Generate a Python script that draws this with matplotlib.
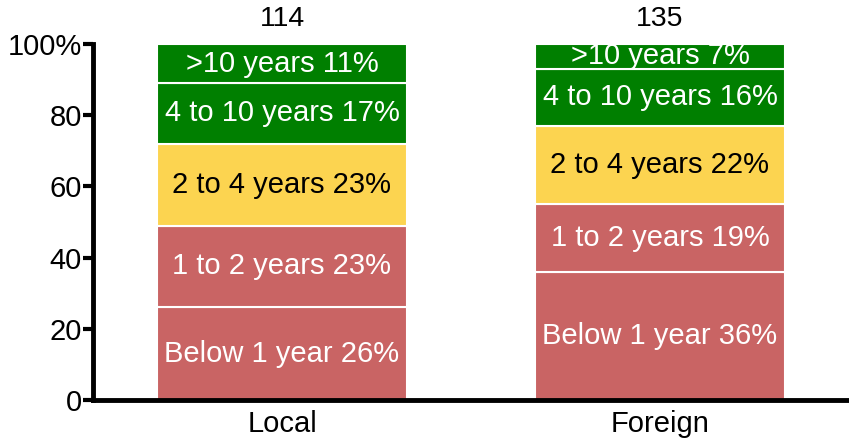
import matplotlib
matplotlib.use("Agg")
import matplotlib.pyplot as plt

plt.rcParams['font.family'] = ['Liberation Sans', 'DejaVu Sans']

categories = ["Local", "Foreign"]
totals = [114, 135]
segments = ["Below 1 year", "1 to 2 years", "2 to 4 years", "4 to 10 years", ">10 years"]
local_pct = [26, 23, 23, 17, 11]
foreign_pct = [36, 19, 22, 16, 7]
seg_colors = ["#C96464", "#C96464", "#FCD450", "#007F00", "#007F00"]
text_colors = ["white", "white", "black", "white", "white"]

values = [local_pct, foreign_pct]

fig = plt.figure(figsize=(8.49, 4.41), dpi=100)
ax = fig.add_axes([93 / 849, 41 / 441, 756 / 849, 356 / 441])

x = list(range(len(categories)))
bar_w = 0.664
bottoms = [0, 0]
for i, seg in enumerate(segments):
    heights = [v[i] for v in values]
    bars = ax.bar(x, heights, bar_w, bottom=bottoms, color=seg_colors[i],
                  edgecolor="white", linewidth=1.5, zorder=2)
    for j, b in enumerate(bars):
        h = heights[j]
        ax.text(b.get_x() + b.get_width() / 2, bottoms[j] + h / 2,
                f"{seg} {h}%", ha="center", va="center",
                color=text_colors[i], fontsize=21, zorder=3)
    bottoms = [bottoms[k] + heights[k] for k in range(len(bottoms))]

for j, t in enumerate(totals):
    ax.text(x[j], 103.5, str(t), ha="center", va="bottom", fontsize=20.5,
            clip_on=False)

ax.set_xlim(-0.5, 1.5)
ax.set_ylim(0, 100)
ax.set_yticks([0, 20, 40, 60, 80, 100])
ax.set_yticklabels(["0", "20", "40", "60", "80", "100%"])
ax.set_xticks(x)
ax.set_xticklabels(categories)
ax.tick_params(axis="y", length=7, width=3, labelsize=21, pad=1)
ax.tick_params(axis="x", length=0, labelsize=21, pad=7)
for s in ["top", "right"]:
    ax.spines[s].set_visible(False)
for s in ["left", "bottom"]:
    ax.spines[s].set_linewidth(3.5)
ax.spines["left"].set_zorder(4)

fig.savefig("out.png", dpi=100)
